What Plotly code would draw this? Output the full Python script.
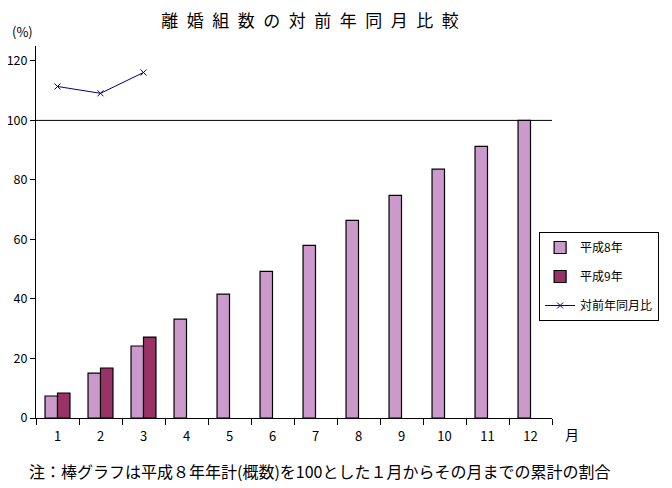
import plotly.graph_objects as go

# data
months = ['1', '2', '3', '4', '5', '6', '7', '8', '9', '10', '11', '12']
h8 = [7.4, 15.1, 24.2, 33.2, 41.6, 49.3, 58.0, 66.4, 74.8, 83.6, 91.3, 100.0]
h9 = [8.4, 16.8, 27.2, None, None, None, None, None, None, None, None, None]
ratio_months = ['1', '2', '3']
ratio = [111.4, 109.1, 116.1]

FONT = 'Noto Sans CJK JP, Noto Sans, sans-serif'

fig = go.Figure()
fig.add_trace(go.Bar(x=months, y=h8, name='平成8年', legendgroup='a',
                     marker=dict(color='#CC99CC', line=dict(color='black', width=1.2))))
fig.add_trace(go.Bar(x=months, y=h9, name='平成9年', legendgroup='b',
                     marker=dict(color='#993366', line=dict(color='black', width=1.2))))
fig.add_trace(go.Scatter(x=ratio_months, y=ratio, name='対前年同月比', legendgroup='c',
                         mode='lines+markers',
                         line=dict(color='#000080', width=1),
                         marker=dict(symbol='x-thin', size=6, line=dict(color='#000080', width=1))))

# reference line at 100
fig.add_shape(type='line', xref='paper', yref='y', x0=0, x1=1, y0=100, y1=100,
              line=dict(color='black', width=1))

# page body has an 8px margin, so the figure is shrunk and shifted accordingly
fig.update_layout(
    width=664, height=480,
    margin=dict(l=28, r=120, t=38, b=70),
    plot_bgcolor='white', paper_bgcolor='white',
    font=dict(family=FONT, size=13, color='black'),
    barmode='group', bargap=0.42, bargroupgap=0.0,
    showlegend=True,
    legend=dict(x=0.975, y=0.50, xanchor='left', yanchor='top',
                bordercolor='black', borderwidth=1, bgcolor='white',
                font=dict(size=12), tracegroupgap=10, traceorder='grouped'),
    title=dict(text='離\u2002婚\u2002組\u2002数\u2002の\u2002対\u2002前\u2002年\u2002同\u2002月\u2002比\u2002較',
               x=0.455, xanchor='center', y=0.972, yanchor='middle', font=dict(size=17)),
)

fig.update_xaxes(type='category', range=[-0.5, 11.5], showline=True, linecolor='black',
                 linewidth=1, ticks='outside', tickson='boundaries', ticklen=6,
                 tickcolor='black', showgrid=False, tickfont=dict(size=13),
                 ticklabelstandoff=6, automargin=False)
fig.update_yaxes(range=[0, 125], showline=True, linecolor='black', linewidth=1,
                 ticks='outside', ticklen=5, tickcolor='black', tickvals=[0, 20, 40, 60, 80, 100, 120],
                 showgrid=False, zeroline=False, tickfont=dict(size=12.5), automargin=False)

fig.add_annotation(text='(%)', xref='paper', yref='paper', x=-0.027, y=1.008,
                   xanchor='center', yanchor='bottom', showarrow=False, font=dict(size=13))
fig.add_annotation(text='月', xref='paper', yref='paper', x=1.022, y=-0.012,
                   xanchor='left', yanchor='top', showarrow=False, font=dict(size=14))
fig.add_annotation(text='注：棒グラフは平成８年年計(概数)を100とした１月からその月までの累計の割合',
                   xref='paper', yref='paper', x=-0.018, y=-0.105,
                   xanchor='left', yanchor='top', showarrow=False, font=dict(size=16))

fig.write_html('out.html')
